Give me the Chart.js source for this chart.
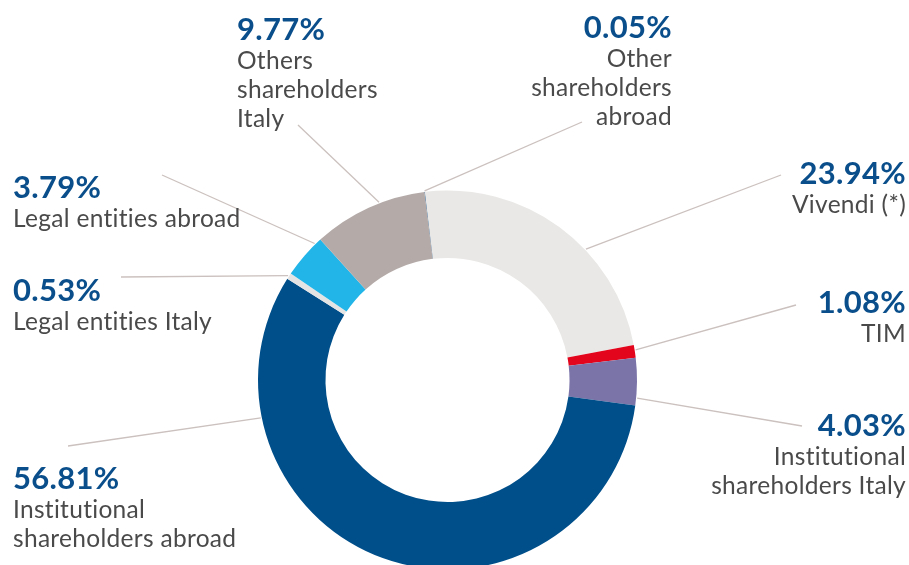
<!DOCTYPE html>
<html>
<head>
<meta charset="utf-8">
<script src="https://cdn.jsdelivr.net/npm/chart.js@4/dist/chart.umd.min.js"></script>
<style>
html,body{margin:0;padding:0;background:#fff;overflow:hidden;}
#wrap{width:909px;height:600px;}
</style>
</head>
<body>
<div id="wrap"><canvas id="c" width="909" height="600"></canvas></div>
<script>
// ---- data ----
const categories = [
  ["Other", "shareholders", "abroad"],
  ["Vivendi (*)"],
  ["TIM"],
  ["Institutional", "shareholders Italy"],
  ["Institutional", "shareholders abroad"],
  ["Legal entities Italy"],
  ["Legal entities abroad"],
  ["Others", "shareholders", "Italy"]
];
const shares = [0.05, 23.94, 1.08, 4.03, 56.81, 0.53, 3.79, 9.77];
const sliceColors = ["#0b4a84", "#e9e8e6", "#e2051c", "#7b74a9", "#004f8a", "#e4e4e4", "#22b5e8", "#b4aba8"];

// ---- label layout (text anchor, leader-line end, where along the slice the line starts) ----
const labelLayout = [
  {x: 672, y: 38,  align: "right", end: [582, 122], along: 0.5},
  {x: 906, y: 184, align: "right", end: [781, 175], along: 0.62},
  {x: 906, y: 313, align: "right", end: [796, 305], along: 0.4},
  {x: 906, y: 436, align: "right", end: [802, 426], along: 0.84},
  {x: 13,  y: 489, align: "left",  end: [68, 446],  along: 0.786},
  {x: 13,  y: 301, align: "left",  end: [121, 277], along: 0.5},
  {x: 13,  y: 198, align: "left",  end: [162, 175], along: 0.85},
  {x: 237, y: 40,  align: "left",  end: [298, 125], along: 0.6}
];

const labelPlugin = {
  id: "labels",
  afterDraw(chart) {
    const ctx = chart.ctx;
    const meta = chart.getDatasetMeta(0);
    ctx.save();
    meta.data.forEach((arc, i) => {
      const p = arc.getProps(["x", "y", "startAngle", "endAngle", "outerRadius"], true);
      const L = labelLayout[i];
      const a = p.startAngle + (p.endAngle - p.startAngle) * L.along;
      const r = p.outerRadius + 1;
      const sx = p.x + Math.cos(a) * r;
      const sy = p.y + Math.sin(a) * r;
      ctx.strokeStyle = "#cbc1be";
      ctx.lineWidth = 1.3;
      ctx.beginPath();
      ctx.moveTo(sx, sy);
      ctx.lineTo(L.end[0], L.end[1]);
      ctx.stroke();

      ctx.textAlign = L.align;
      ctx.textBaseline = "alphabetic";
      ctx.letterSpacing = "0.3px";
      ctx.fillStyle = "#0a4f8b";
      ctx.font = "bold 31px Lato";
      ctx.fillText(shares[i].toFixed(2) + "%", L.x, L.y);
      ctx.fillStyle = "#4a4a4a";
      ctx.font = "24.5px Lato";
      categories[i].forEach((line, k) => {
        ctx.fillText(line, L.x, L.y + 29 * (k + 1));
      });
    });
    ctx.restore();
  }
};

new Chart(document.getElementById("c"), {
  type: "doughnut",
  data: {
    labels: categories.map(c => c.join(" ")),
    datasets: [{
      data: shares,
      backgroundColor: sliceColors,
      borderWidth: 0
    }]
  },
  options: {
    responsive: false,
    animation: false,
    rotation: -7,
    cutout: "64.4%",
    layout: {padding: {left: 258, right: 272, top: 190.5, bottom: 30.5}},
    plugins: {legend: {display: false}, tooltip: {enabled: false}}
  },
  plugins: [labelPlugin]
});
</script>
</body>
</html>
